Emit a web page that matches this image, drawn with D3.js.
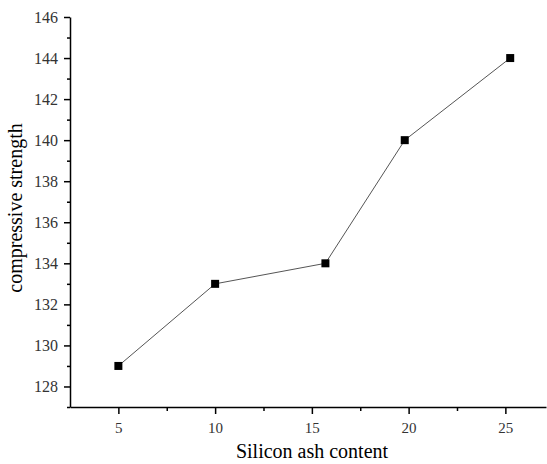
<!DOCTYPE html>
<html>
<head>
<meta charset="utf-8">
<script src="https://cdn.jsdelivr.net/npm/d3@7"></script>
<style>
  body { margin: 0; background: #fff; }
  text { font-family: "Liberation Serif", "DejaVu Serif", serif; }
</style>
</head>
<body>
<script>
var silicon = [5, 10, 15.7, 19.8, 25.25];
var strength = [129, 133, 134, 140, 144];
var yTicks = [128, 130, 132, 134, 136, 138, 140, 142, 144, 146];
var xTicks = [5, 10, 15, 20, 25];

function draw_vis(width, height) {
  var svg = d3.select("body")
    .append("svg")
    .attr("width", width)
    .attr("height", height);

  var left = 70, top = 17, right = 546, bottom = 407;

  var x = d3.scaleLinear().domain([2.5, 27.1]).range([left, right]);
  var y = d3.scaleLinear().domain([127, 146]).range([bottom, top]);

  // minor ticks
  var xAxisMinor = d3.axisBottom(x).tickValues([7.5, 12.5, 17.5, 22.5]).tickSize(4).tickFormat("");
  var yAxisMinor = d3.axisLeft(y).tickValues(d3.range(127, 146, 2)).tickSize(3).tickFormat("");

  svg.append("g")
    .attr("transform", "translate(0," + bottom + ")")
    .call(xAxisMinor)
    .call(function(g) { g.select(".domain").remove(); });

  svg.append("g")
    .attr("transform", "translate(" + left + ",0)")
    .call(yAxisMinor)
    .call(function(g) { g.select(".domain").remove(); });

  var gx = svg.append("g")
    .attr("transform", "translate(0," + bottom + ")")
    .call(d3.axisBottom(x).tickValues(xTicks).tickSize(7).tickSizeOuter(0).tickPadding(8));

  var gy = svg.append("g")
    .attr("transform", "translate(" + left + ",0)")
    .call(d3.axisLeft(y).tickValues(yTicks).tickSize(6).tickSizeOuter(0).tickPadding(6));

  svg.selectAll(".tick line, .domain")
    .attr("stroke", "#000")
    .attr("stroke-width", 1.5);

  gx.selectAll("text").attr("font-size", 15).attr("fill", "#333");
  gy.selectAll("text").attr("font-size", 16).attr("fill", "#333");

  var pts = silicon.map(function(d, i) { return [d, strength[i]]; });

  svg.append("path")
    .datum(pts)
    .attr("fill", "none")
    .attr("stroke", "#555")
    .attr("stroke-width", 1)
    .attr("d", d3.line()
      .x(function(d) { return x(d[0]); })
      .y(function(d) { return y(d[1]); }));

  svg.selectAll(".pt")
    .data(pts)
    .enter()
    .append("rect")
      .attr("class", "pt")
      .attr("x", function(d) { return x(d[0]) - 4; })
      .attr("y", function(d) { return y(d[1]) - 4; })
      .attr("width", 8)
      .attr("height", 8)
      .attr("fill", "#000");

  svg.append("text")
    .attr("x", 312)
    .attr("y", 458)
    .attr("text-anchor", "middle")
    .attr("font-size", 20)
    .text("Silicon ash content");

  svg.append("text")
    .attr("transform", "translate(22,208) rotate(-90)")
    .attr("text-anchor", "middle")
    .attr("font-size", 20)
    .text("compressive strength");
}

draw_vis(547, 464);
</script>
</body>
</html>
